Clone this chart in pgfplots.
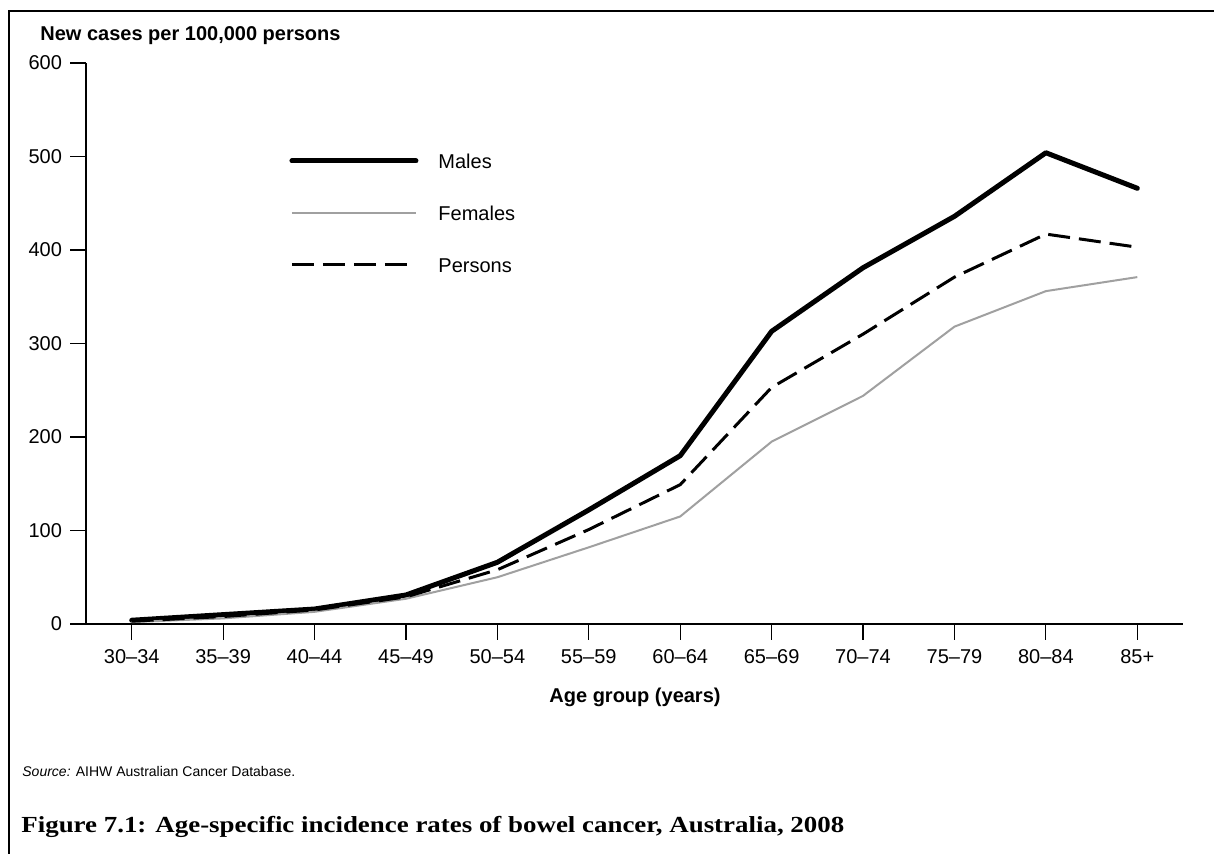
\documentclass[border=0pt]{standalone}
\usepackage{pgfplots}
\pgfplotsset{compat=1.18}
\usepackage{fontspec}
\setmainfont{Liberation Sans}
\newfontfamily\titlefont{Liberation Serif}
\definecolor{femgray}{HTML}{A0A0A0}
\begin{document}
\begin{tikzpicture}[x=1pt,y=1pt]
\useasboundingbox (0,0) rectangle (607,427);
\fill[white] (0,0) rectangle (607,427);
% frame (left and top)
\draw[line width=1.25pt] (4.5,0) -- (4.5,421.5) -- (607,421.5);
\begin{axis}[
  at={(43pt,115pt)}, anchor=south west,
  scale only axis, width=548.5pt, height=280.5pt,
  xmin=-0.5, xmax=11.5, ymin=0, ymax=600,
  axis lines=left, axis line style={-, line width=0.6pt},
  tick style={line width=0.6pt, black},
  tick align=outside, major tick length=8pt,
  xtick={0,...,11},
  xticklabels={30--34,35--39,40--44,45--49,50--54,55--59,60--64,65--69,70--74,75--79,80--84,85+},
  ytick={0,100,...,600},
  /pgf/number format/assume math mode=true,
  ticklabel style={font=\fontsize{10}{12}\selectfont},
  xticklabel style={yshift=-1pt},
  yticklabel style={xshift=-0.5pt},
  clip=false,
  legend style={draw=none, fill=none, at={(0.1851,0.7326)}, anchor=west,
    inner sep=0pt, row sep=18.8pt, column sep=10pt,
    nodes={inner sep=0pt, text height=7.2pt, text depth=0pt, font=\fontsize{10}{12}\selectfont},
    cells={anchor=west}},
  legend image code/.code={\draw[#1] (0pt,0pt) -- (62pt,0pt);},
]
\addplot[black, line width=2.5pt, line cap=round, line join=round] coordinates {
(0,4) (1,10) (2,16) (3,31) (4,66) (5,122) (6,180) (7,313) (8,381) (9,436) (10,504) (11,466)};
\addlegendentry{Males}
\addplot[femgray, line width=1pt, line join=round] coordinates {
(0,2) (1,6) (2,13) (3,27) (4,50) (5,82) (6,115) (7,195) (8,244) (9,318) (10,356) (11,371)};
\addlegendentry{Females}
\addplot[black, line width=1.5pt, dash pattern=on 11pt off 4.5pt] coordinates {
(0,3) (1,8) (2,15) (3,29) (4,58) (5,101) (6,149) (7,253) (8,310) (9,371) (10,417) (11,403)};
\addlegendentry{Persons}
\end{axis}
\node[anchor=base west, inner sep=0pt, font=\bfseries\fontsize{10}{12}\selectfont] at (20,406.5) {New cases per 100,000 persons};
\node[anchor=base, inner sep=0pt, font=\bfseries\fontsize{10}{12}\selectfont] at (317.5,75.5) {Age group (years)};
\node[anchor=base west, inner sep=0pt, font=\fontsize{7}{8}\selectfont] at (11,38.5) {\textit{Source:} AIHW Australian Cancer Database.};
\node[anchor=base west, inner sep=0pt, font=\titlefont\bfseries\fontsize{11.5}{13}\selectfont] at (10.5,10.5) {\scalebox{1.17}[1]{Figure 7.1: Age-specific incidence rates of bowel cancer, Australia, 2008}};
\end{tikzpicture}
\end{document}
